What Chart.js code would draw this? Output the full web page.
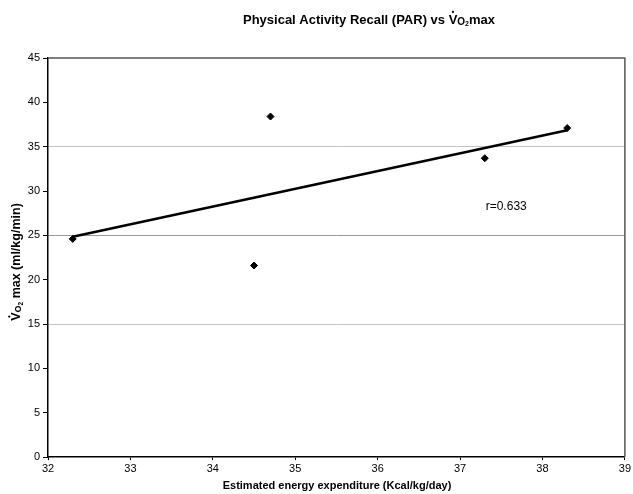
<!DOCTYPE html>
<html>
<head>
<meta charset="utf-8">
<script src="https://cdn.jsdelivr.net/npm/chart.js@4/dist/chart.umd.min.js"></script>
<style>
  html, body { margin: 0; padding: 0; background: #fff; }
  canvas { display: block; }
</style>
</head>
<body>
<canvas id="par" width="633" height="494"></canvas>
<script>
// energy expenditure (Kcal/kg/day) vs VO2max (ml/kg/min)
var energy = [32.3, 34.7, 34.5, 37.3, 38.3];
var vo2max = [24.6, 38.4, 21.6, 33.7, 37.1];
var xRange = [32, 39];
var yRange = [0, 45];
var yGridValues = [15, 25, 35];
var rLabel = "r=0.633";
var rLabelAt = [37.56, 28.2];

var FONT = '"Liberation Sans", Arial, sans-serif';

// least squares trend line through the points
function trendLine(xs, ys) {
    var n = xs.length, mx = 0, my = 0, sxy = 0, sxx = 0;
    for (var i = 0; i < n; i++) { mx += xs[i]; my += ys[i]; }
    mx /= n; my /= n;
    for (var j = 0; j < n; j++) {
        sxy += (xs[j] - mx) * (ys[j] - my);
        sxx += (xs[j] - mx) * (xs[j] - mx);
    }
    var b = sxy / sxx, a = my - b * mx;
    var x0 = Math.min.apply(null, xs), x1 = Math.max.apply(null, xs);
    return [{x: x0, y: a + b * x0}, {x: x1, y: a + b * x1}];
}

// text made of runs with their own size / baseline shift, used for the VO2 subscripts
function drawRuns(ctx, runs, cx, cy) {
    var total = 0;
    runs.forEach(function(r) {
        ctx.font = "bold " + r.size + "px " + FONT;
        r.w = ctx.measureText(r.t).width;
        total += r.w;
    });
    var x = cx - total / 2;
    ctx.textBaseline = "middle";
    ctx.textAlign = "left";
    runs.forEach(function(r) {
        ctx.font = "bold " + r.size + "px " + FONT;
        ctx.fillText(r.t, x, cy + (r.dy || 0));
        if (r.dot) {
            ctx.beginPath();
            ctx.arc(x + r.w / 2, cy - r.size * 0.62, 1.1, 0, Math.PI * 2);
            ctx.fill();
        }
        x += r.w;
    });
}

var decor = {
    id: "decor",
    afterDraw: function(chart) {
        var ctx = chart.ctx, area = chart.chartArea;
        ctx.save();
        // plot frame
        ctx.strokeStyle = "#555";
        ctx.lineWidth = 1.5;
        ctx.beginPath();
        ctx.moveTo(area.left, area.top);
        ctx.lineTo(area.right, area.top);
        ctx.lineTo(area.right, area.bottom);
        ctx.stroke();

        ctx.fillStyle = "#000";
        drawRuns(ctx, [
            {t: "Physical Activity Recall (PAR) vs ", size: 13},
            {t: "V", size: 13, dot: true},
            {t: "O", size: 10, dy: 2},
            {t: "2", size: 7, dy: 4},
            {t: "max", size: 13}
        ], 369, 20);

        ctx.font = "bold 11px " + FONT;
        ctx.textAlign = "center";
        ctx.textBaseline = "middle";
        ctx.fillText("Estimated energy expenditure (Kcal/kg/day)", 337, 486);

        ctx.save();
        ctx.translate(17, 262);
        ctx.rotate(-Math.PI / 2);
        drawRuns(ctx, [
            {t: "V", size: 12.5, dot: true},
            {t: "O", size: 9, dy: 2},
            {t: "2", size: 6.5, dy: 4},
            {t: " max (ml/kg/min)", size: 12.5}
        ], 0, 0);
        ctx.restore();

        ctx.font = "12px " + FONT;
        ctx.textAlign = "center";
        ctx.textBaseline = "middle";
        ctx.fillText(rLabel,
            chart.scales.x.getPixelForValue(rLabelAt[0]),
            chart.scales.y.getPixelForValue(rLabelAt[1]));
        ctx.restore();
    }
};

window.onload = function() {
    var points = energy.map(function(x, i) { return {x: x, y: vo2max[i]}; });

    var ctx = document.getElementById("par").getContext("2d");
    new Chart(ctx, {
        type: "scatter",
        data: {
            datasets: [{
                data: points,
                pointStyle: "rectRot",
                pointRadius: 3.5,
                backgroundColor: "#000",
                borderColor: "#000"
            }, {
                type: "line",
                data: trendLine(energy, vo2max),
                borderColor: "#000",
                borderWidth: 2.5,
                pointRadius: 0,
                fill: false
            }]
        },
        options: {
            responsive: false,
            animation: false,
            layout: { padding: { top: 58, right: 6, left: 0, bottom: 0 } },
            plugins: { legend: { display: false }, tooltip: { enabled: false } },
            scales: {
                x: {
                    type: "linear",
                    min: xRange[0],
                    max: xRange[1],
                    ticks: { stepSize: 1, color: "#000", padding: 2, font: { family: FONT, size: 11 } },
                    grid: { drawOnChartArea: false, tickLength: 3, tickColor: "#000" },
                    border: { color: "#000", width: 1.5 },
                    afterFit: function(s) { s.height = 37; }
                },
                y: {
                    min: yRange[0],
                    max: yRange[1],
                    ticks: { stepSize: 5, color: "#000", padding: 3, font: { family: FONT, size: 11 } },
                    grid: {
                        color: function(c) {
                            if (!c.tick) return "rgba(0,0,0,0)";
                            if (c.tick.value === 25) return "#999";
                            return yGridValues.indexOf(c.tick.value) >= 0 ? "#c4c4c4" : "rgba(0,0,0,0)";
                        },
                        tickLength: 5,
                        tickColor: "#000"
                    },
                    border: { color: "#000", width: 1.5 },
                    afterFit: function(s) { s.width = 48; }
                }
            }
        },
        plugins: [decor]
    });
};
</script>
</body>
</html>
